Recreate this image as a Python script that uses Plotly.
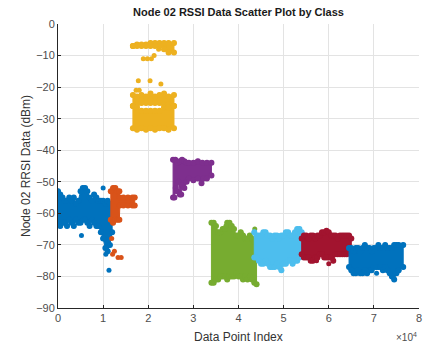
import plotly.graph_objects as go

# ---------------- data (envelopes of each class cluster) -------------
# Class 1 (blue)
c1_x   = [0, 500, 1000, 1500, 2000, 2500, 3000, 3500, 4000, 4500, 5000, 5500, 6000, 6500, 7000, 7500, 8000, 8500, 9000, 9500, 10000, 10500, 11000, 11500, 12000]
c1_top = [-53, -54, -55, -56, -56, -55, -56, -55, -57, -56, -53, -52, -52, -53, -55, -56, -54, -55, -56, -56, -56, -57, -56, -57, -58]
c1_bot = [-63, -64, -63, -63, -64, -62, -63, -64, -62, -63, -63, -62, -62, -63, -64, -62, -63, -64, -64, -66, -68, -71, -72, -70, -66]
c1_px  = [5200, 10000, 10600, 11300]
c1_py  = [-67, -52, -73, -78]

# Class 2 (orange)
c2_x   = [11700, 12200, 12700, 13200, 13600, 13700, 14500, 15500, 16500, 17000]
c2_top = [-53, -52, -52, -53, -53, -55, -55, -55, -55, -55]
c2_bot = [-62, -63, -62, -62, -62, -57.5, -57.5, -57.5, -57.5, -57.5]
c2_px  = [11900, 12100, 12500, 13300, 14000]
c2_py  = [-68, -73, -72, -74, -74]

# Class 3 (yellow) - three bands plus scattered points
c3a_x   = [16600, 17500, 18500, 19500, 20500, 21500, 22500, 23500, 24500, 25700]
c3a_top = [-7, -6.5, -6.5, -6.5, -6, -6, -6, -6, -6, -6]
c3a_bot = [-7, -7, -7, -7, -7, -7, -7, -8, -9, -9]
c3b_x   = [16600, 17500, 18500, 19500, 20500, 21500, 22500, 23500, 24500, 25700]
c3b_top = [-22.5, -23, -22.5, -23, -22, -23, -22.5, -22, -23, -22.5]
c3b_bot = [-26, -25.5, -25, -25, -25, -25, -25, -25.5, -25.5, -26]
c3c_x   = [16600, 17500, 18500, 19500, 20500, 21500, 22500, 23500, 24500, 25700]
c3c_top = [-26, -26.5, -27.5, -27.5, -27.5, -27.5, -27.5, -26.5, -26.5, -26]
c3c_bot = [-33, -33.5, -33, -33.5, -33, -33.5, -33, -33, -33.5, -33]
c3_px   = [18900, 19800, 20700, 21300, 22300, 17800, 20400, 22800, 17300, 18000]
c3_py   = [-11, -11, -11, -10, -8, -18, -18, -19, -21, -21]

# Class 4 (purple)
c4_tx  = [25500, 26000, 26500, 27000, 27500, 28000, 28500, 29000, 30000, 31000, 32000, 33000, 34000]
c4_top = [-43, -43, -44, -43.5, -43, -43.5, -44, -44, -44, -43.5, -44, -44, -44]
c4_bx  = [25500, 25800, 26100, 26400, 26700, 27000, 27300, 27600, 28000, 28500, 29000, 30000, 31000, 31800, 32300, 33000, 34000]
c4_bot = [-55, -55, -52, -53, -50, -54, -54, -51, -52, -50, -49, -49.5, -49, -50.5, -49, -49, -48]

# Class 5 (green)
c5_x   = [34000, 34500, 35000, 35500, 36000, 36500, 37000, 37500, 38000, 38500, 39000, 39500, 40000, 40500, 41000, 41500, 42000, 42500, 43000, 43500, 44000]
c5_top = [-63, -63, -64, -66, -66, -65, -65, -63, -63, -64, -65, -67, -67, -66, -67, -68, -68, -67, -68, -69, -69]
c5_bot = [-82, -82, -81, -81, -80, -80, -80, -81, -80, -80, -80, -79, -80, -80, -81, -80, -81, -80, -81, -82, -82.5]
c5_px  = [37200, 43600]
c5_py  = [-64, -65]

# Class 6 (light blue)
c6_x   = [43500, 44000, 44500, 45000, 45500, 46000, 46500, 47000, 47500, 48000, 48500, 49000, 49500, 50000, 50500, 51000, 51500, 52000, 52500, 53000, 53500, 54000]
c6_top = [-66, -67, -67, -67, -66, -66, -67, -67, -68, -67, -67, -68, -67, -67, -66, -66, -67, -67, -66, -65, -65, -66]
c6_bot = [-74, -74, -75, -76, -76, -75, -76, -77, -77, -77, -76, -77, -78, -76, -76, -75, -75, -76, -75, -75, -74, -73]

# Class 7 (dark red)
c7_x   = [54000, 54500, 55000, 55500, 56000, 56500, 57000, 57500, 58000, 58500, 59000, 59500, 60000, 60500, 61000, 61500, 62000, 62500, 63000, 63500, 64000, 64500, 65000]
c7_top = [-68, -67, -67, -68, -67, -67, -68, -67, -67, -66, -66, -65.5, -66, -67, -67, -67, -68, -67, -67, -67, -67, -67, -68]
c7_bot = [-73, -74, -74, -74, -75, -75, -74, -74, -73, -73, -74, -74, -74, -74, -75, -73, -73, -73, -73, -73, -73, -72, -72]
c7_px  = [57300, 60000]
c7_py  = [-75, -76]

# Class 8 (blue)
c8_x   = [64500, 65000, 65500, 66000, 66500, 67000, 67500, 68000, 68500, 69000, 69500, 70000, 70500, 71000, 71500, 72000, 72500, 73000, 73500, 74000, 74500, 75000, 75500, 76500]
c8_top = [-71, -71, -72, -71, -71, -72, -71, -70, -71, -71, -72, -71, -71, -70, -71, -71, -70, -71, -71, -71, -70, -70, -70, -70]
c8_bot = [-77, -78, -79, -79, -78, -79, -79, -78, -79, -78, -78, -77, -77, -77, -77, -78, -77, -78, -79, -80, -81, -79, -78, -77]
c8_px  = [70600]
c8_py  = [-79]

x_ticks = [0, 10000, 20000, 30000, 40000, 50000, 60000, 70000, 80000]
x_tick_labels = ["0", "1", "2", "3", "4", "5", "6", "7", "8"]
y_ticks = [0, -10, -20, -30, -40, -50, -60, -70, -80, -90]

BLUE, ORANGE, YELLOW, PURPLE = "#0072BD", "#D95319", "#EDB120", "#7E2F8E"
GREEN, LBLUE, RED = "#77AC30", "#4DBEEE", "#A2142F"

fig = go.Figure()

MS = 5  # marker diameter in px


def blob(xt, top, xb, bot, color):
    xs = list(xt) + list(reversed(xb)) + [xt[0]]
    ys = list(top) + list(reversed(bot)) + [top[0]]
    fig.add_trace(go.Scatter(x=xs, y=ys, mode="lines+markers", fill="toself",
                             fillcolor=color, line=dict(color=color, width=1),
                             marker=dict(color=color, size=MS, line=dict(width=0)),
                             hoverinfo="skip", showlegend=False))
    fig.add_trace(go.Scatter(x=list(xt) + list(xb), y=list(top) + list(bot), mode="markers",
                             marker=dict(color=color, size=MS + 1, line=dict(width=0)),
                             hoverinfo="skip", showlegend=False))


def pts(px, py, color):
    fig.add_trace(go.Scatter(x=px, y=py, mode="markers",
                             marker=dict(color=color, size=MS, line=dict(width=0)),
                             hoverinfo="skip", showlegend=False))


blob(c1_x, c1_top, c1_x, c1_bot, BLUE); pts(c1_px, c1_py, BLUE)
blob(c2_x, c2_top, c2_x, c2_bot, ORANGE); pts(c2_px, c2_py, ORANGE)
blob(c3a_x, c3a_top, c3a_x, c3a_bot, YELLOW)
blob(c3b_x, c3b_top, c3b_x, c3b_bot, YELLOW)
blob(c3c_x, c3c_top, c3c_x, c3c_bot, YELLOW)
pts(c3_px, c3_py, YELLOW)
blob(c4_tx, c4_top, c4_bx, c4_bot, PURPLE)
blob(c5_x, c5_top, c5_x, c5_bot, GREEN); pts(c5_px, c5_py, GREEN)
blob(c6_x, c6_top, c6_x, c6_bot, LBLUE)
blob(c7_x, c7_top, c7_x, c7_bot, RED); pts(c7_px, c7_py, RED)
blob(c8_x, c8_top, c8_x, c8_bot, BLUE); pts(c8_px, c8_py, BLUE)

FONT = "Liberation Sans, Arial, sans-serif"
AX = "#262626"
fig.update_layout(
    width=427, height=344,
    margin=dict(l=58, r=8, t=24, b=36, autoexpand=False),
    paper_bgcolor="white", plot_bgcolor="white",
    font=dict(family=FONT, size=11, color="#4d4d4d"),
    title=dict(text="<b>Node 02 RSSI Data Scatter Plot by Class</b>",
               x=(58 + 419) / 2 / 427, xanchor="center",
               y=1 - 12 / 344, yanchor="middle",
               font=dict(family=FONT, size=11, color="#1a1a1a")),
    xaxis=dict(range=[0, 80000], tickvals=x_ticks, ticktext=x_tick_labels,
               automargin=False,
               showgrid=True, gridcolor="#e3e3e3", gridwidth=1,
               showline=True, linecolor=AX, linewidth=1,
               ticks="inside", ticklen=3, tickcolor=AX, zeroline=False),
    yaxis=dict(range=[-90, 0], tickvals=y_ticks,
               automargin=False,
               showgrid=True, gridcolor="#e3e3e3", gridwidth=1,
               showline=True, linecolor=AX, linewidth=1,
               ticks="inside", ticklen=3, tickcolor=AX, zeroline=False),
    annotations=[
        dict(text="Data Point Index", xref="paper", yref="paper",
             x=0.5, y=-29 / 284, xanchor="center", yanchor="middle",
             showarrow=False, font=dict(family=FONT, size=12, color="#333333")),
        dict(text="Node 02 RRSI Data (dBm)", xref="paper", yref="paper",
             x=-32 / 361, y=0.5, xanchor="center", yanchor="middle", textangle=-90,
             showarrow=False, font=dict(family=FONT, size=12, color="#333333")),
        dict(text="×10<sup>4</sup>", xref="paper", yref="paper",
             x=1.0, y=-29 / 284, xanchor="right", yanchor="middle",
             showarrow=False, font=dict(family=FONT, size=10, color="#4d4d4d")),
    ],
)

fig.write_html("out.html", config={"displayModeBar": False},
               post_script="document.body.style.margin='0';document.body.style.overflow='hidden';")
